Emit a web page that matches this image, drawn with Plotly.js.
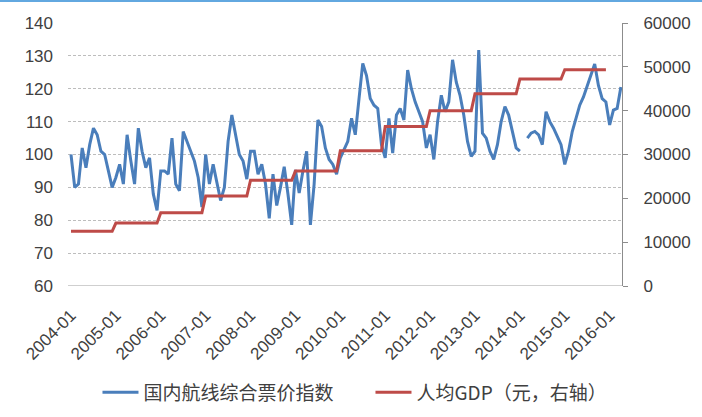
<!DOCTYPE html>
<html>
<head>
<meta charset="utf-8">
<script src="https://cdn.plot.ly/plotly-3.0.1.min.js"></script>
<style>
html,body{margin:0;padding:0;background:#ffffff;}
#chart{width:702px;height:417px;}
</style>
</head>
<body>
<div id="chart"></div>
<script>
// Monthly categories 2004-01 .. 2016-04
var startYear = 2004, nMonths = 148;
var months = [];
for (var i = 0; i < nMonths; i++) {
  var y = startYear + Math.floor(i / 12), mo = (i % 12) + 1;
  months.push(y + '-' + (mo < 10 ? '0' + mo : mo));
}

// 国内航线综合票价指数 (monthly; null = missing)
var fareIndex = [
  100, 90, 91, 102, 96, 103, 108, 106, 101, 100, 95, 90,
  93, 97, 91, 106, 98, 91, 108, 101, 96, 99, 88, 83,
  95, 95, 94, 105, 91, 89, 107, 104, 101, 98, 93, 84,
  100, 91, 97, 92, 86, 90, 104, 112, 106, 100, 98, 92.5,
  101, 101, 94, 97, 91, 80.6, 94, 84.5, 90, 96.3, 88, 78.6,
  95.3, 88.3, 95, 101, 78.6, 91, 110.5, 108.5, 102, 98.5, 97, 94,
  99, 101.4, 104, 111, 106, 117, 127.7, 124, 117, 115, 114, 103,
  99, 111, 100.4, 112, 114, 110.5, 125.7, 120, 116, 113, 110, 102,
  106, 98.5, 110, 118, 113, 116, 128.8, 122, 118, 112, 104, 99.4,
  101, 131.8, 106.5, 105, 101, 98.5, 103, 110, 114.6, 112, 107, 102,
  101, null, 105, 106.5, 107, 106, 103, 113, 110, 108, 105.5, 103,
  97, 101, 107, 111, 115, 117.5, 121, 124, 127.5, 121, 117, 116,
  109, 113.5, 114, 120.5
];

// 人均GDP (元), annual
var gdpYears = [2004, 2005, 2006, 2007, 2008, 2009, 2010, 2011, 2012, 2013, 2014, 2015];
var gdpValues = [12487, 14368, 16738, 20505, 24121, 26222, 30876, 36403, 40007, 43852, 47203, 49351];

// Tick labels every January
var tickVals = [], tickText = [];
for (var k = 0; k < months.length; k += 12) { tickVals.push(months[k]); tickText.push(months[k]); }

// Monthly GDP series (each month carries its year's value)
var gdpMonthly = months.map(function (m) {
  var idx = gdpYears.indexOf(parseInt(m.slice(0, 4), 10));
  return idx >= 0 ? gdpValues[idx] : null;
});

var blue = '#4A7EBB', red = '#BE4B48';
var font = 'Liberation Sans, Arial, sans-serif';
var cjk = 'Noto Sans CJK SC, Liberation Sans, sans-serif';

var traces = [
  {x: months, y: fareIndex, type: 'scatter', mode: 'lines', name: '国内航线综合票价指数',
   line: {color: blue, width: 3}, connectgaps: false, yaxis: 'y'},
  {x: months, y: gdpMonthly, type: 'scatter', mode: 'lines', name: '人均GDP（元，右轴）',
   line: {color: red, width: 3}, connectgaps: false, yaxis: 'y2'}
];

var layout = {
  width: 702, height: 417,
  margin: {l: 68, r: 80, t: 23, b: 131, autoexpand: false},
  paper_bgcolor: '#ffffff', plot_bgcolor: '#ffffff',
  showlegend: true,
  legend: {orientation: 'h', x: 0.546, xanchor: 'center', y: -0.405, yanchor: 'middle',
           font: {family: cjk, size: 19, color: '#404040'}, itemwidth: 36, tracegroupgap: 0,
           entrywidth: 222, entrywidthmode: 'pixels'},
  xaxis: {type: 'category', range: [-0.8, 147.3], tickmode: 'array', tickvals: tickVals, ticktext: tickText,
          tickangle: -45, tickfont: {family: font, size: 17, color: '#404040'}, automargin: false,
          showgrid: false, showline: false, zeroline: false, ticks: '', ticklabelstandoff: 15},
  yaxis: {range: [60, 140], dtick: 10, tickfont: {family: font, size: 17, color: '#404040'}, automargin: false,
          showgrid: true, gridcolor: '#bdbdbd', griddash: '3px,2px', gridwidth: 1,
          zeroline: false, showline: false, ticks: '', ticklabelstandoff: 14},
  yaxis2: {range: [0, 60000], dtick: 10000, overlaying: 'y', side: 'right', tickformat: 'd', automargin: false,
           tickfont: {family: font, size: 17, color: '#404040'},
           showgrid: false, zeroline: false, showline: true, linecolor: '#8c8c8c', linewidth: 1,
           ticks: 'outside', ticklen: 5, tickcolor: '#8c8c8c', ticklabelstandoff: 12},
  shapes: [
    {type: 'line', xref: 'paper', yref: 'y', x0: 0, x1: 1, y0: 60, y1: 60,
     line: {color: '#bfbfbf', width: 1.5}},
    {type: 'line', xref: 'paper', yref: 'paper', x0: -0.13, x1: 1.15, y0: 1.0837, y1: 1.0837,
     line: {color: '#2E8BD6', width: 1.5}}
  ]
};

Plotly.newPlot('chart', traces, layout, {displayModeBar: false, staticPlot: true});
</script>
</body>
</html>
